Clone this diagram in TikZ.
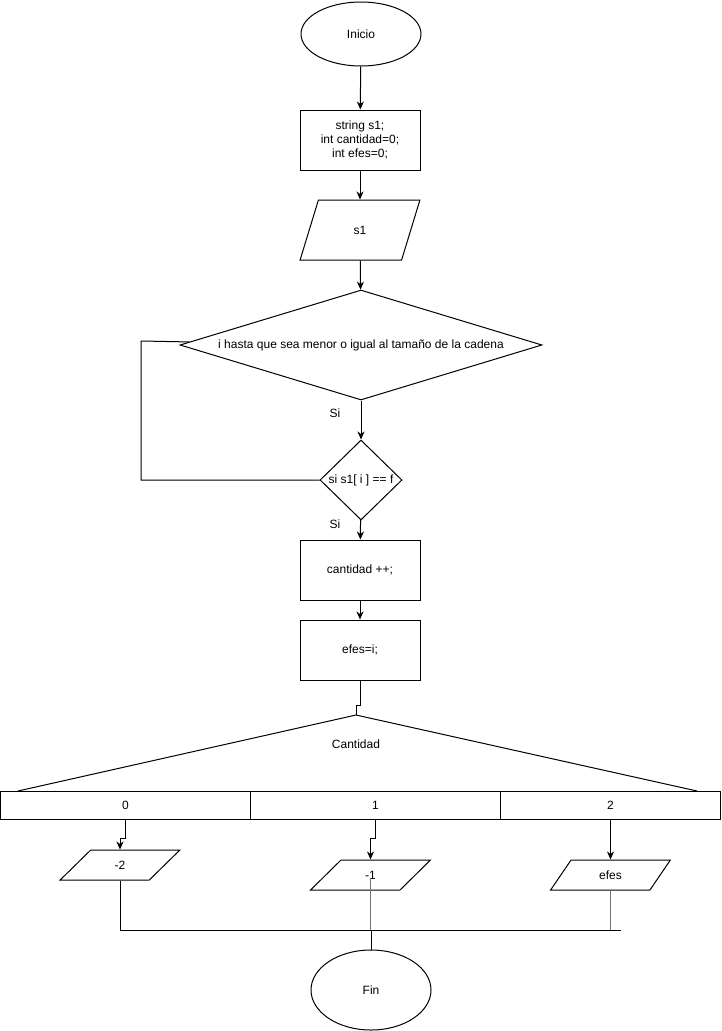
\documentclass[tikz,border=0pt]{standalone}
\usepackage{fontspec}
\setmainfont{Liberation Sans}
\usetikzlibrary{arrows.meta, shapes.geometric, calc}
\tikzset{
  LN/.style={draw=black, line width=1pt},
  AR/.style={LN, -{Stealth[length=8pt, width=7pt, inset=2.5pt]}},
  TM/.style={ellipse, LN, minimum width=120, inner sep=0pt},
  PR/.style={rectangle, LN, minimum width=120, minimum height=60,
             align=center, inner sep=0pt},
  IO/.style={trapezium, trapezium stretches=true, LN, minimum width=120,
             inner sep=0pt},
  DC/.style={diamond, LN, inner sep=0pt},
  CS/.style={rectangle, LN, minimum height=28, inner sep=0pt},
  TX/.style={inner sep=0pt},
}

\begin{document}
\begin{tikzpicture}[x=1pt, y=-1pt, font=\fontsize{12}{14}\selectfont]
\useasboundingbox (0,0) rectangle (721,1031);

%% ================================================================
%%  START, DECLARATIONS, INPUT
%% ================================================================
\node[TM, minimum height=64] (ini) at (361,34) {Inicio};
\node[PR] (decl) at (360,140) {string s1;\\int cantidad=0;\\int efes=0;};
\node[IO, minimum height=60, trapezium left angle=71.57,
      trapezium right angle=108.43] (ins1) at (360,230) {s1};

\draw[AR] (ini) -- (decl);
\draw[AR] (decl) -- (ins1);

%% ================================================================
%%  LOOP AND TEST
%% ================================================================
\node[DC, minimum width=362, minimum height=110] (loop) at (361,345)
  {\makebox[0pt]{i hasta que sea menor o igual al tamaño de la cadena}};
\node[DC, minimum width=82, minimum height=80] (test) at (361,480)
  {\makebox[0pt]{si s1[ i ] == f}};

\draw[AR] (ins1) -- (loop);
\draw[AR] (loop) -- (test);
\node[TX] (si1) at (335,413) {Si};
\node[TX] (si2) at (335,524) {Si};

% back to loop
\coordinate (lp) at (141,341);
\draw[LN] (test.west) -| (lp) -- ($(loop.west)!0.055!(loop.north)$);

%% ================================================================
%%  BODY
%% ================================================================
\node[PR] (incr) at (360,570) {cantidad ++;};
\node[PR] (asgn) at (360,650) {efes=i;};

\draw[AR] (test) -- (incr);
\draw[AR] (incr) -- (asgn);

%% ================================================================
%%  SWITCH ON CANTIDAD
%% ================================================================
\coordinate (apex) at (356,715);
\coordinate (tl) at (18,791);
\coordinate (tr) at (697,791);
\draw[LN] (tl) -- (apex) -- (tr);
\node[TX] (swl) at (356,744) {Cantidad};

\draw[LN] (asgn.south) -- ++(0,25) -| (apex);

\node[CS, minimum width=250] (c0) at (125.5,805) {0};
\node[CS, minimum width=250] (c1) at (375.5,805) {1};
\node[CS, minimum width=220] (c2) at (610.5,805) {2};

% outputs
\node[IO, minimum height=30, trapezium left angle=56.31,
      trapezium right angle=123.69] (out0) at (120,865) {-2};
\node[IO, minimum height=30, trapezium left angle=56.31,
      trapezium right angle=123.69] (out1) at (370.5,875) {-1};
\node[IO, minimum height=30, trapezium left angle=56.31,
      trapezium right angle=123.69] (out2) at (610.5,875) {efes};

\draw[AR] (c0.south) -- ++(0,19) -| (out0.north);
\draw[AR] (c1.south) -- ++(0,19) -| (out1.north);
\draw[AR] (c2.south) -- (c2.south |- out2.north);

%% ================================================================
%%  MERGE AND END
%% ================================================================
\coordinate (mj) at (371,930);
\coordinate (mr) at (621,930);
\node[TM, minimum height=80] (fin) at (371,990) {Fin};

\draw[LN] (out0.south) |- (mr);
\draw[LN, draw=black!55] ($(out1.center)+(0,3)$) -- (out1 |- mj);
\draw[LN, draw=black!55] (out2.south) -- (out2.south |- mj);
\draw[LN] (mj) -- (fin.north);

\end{tikzpicture}
\end{document}
